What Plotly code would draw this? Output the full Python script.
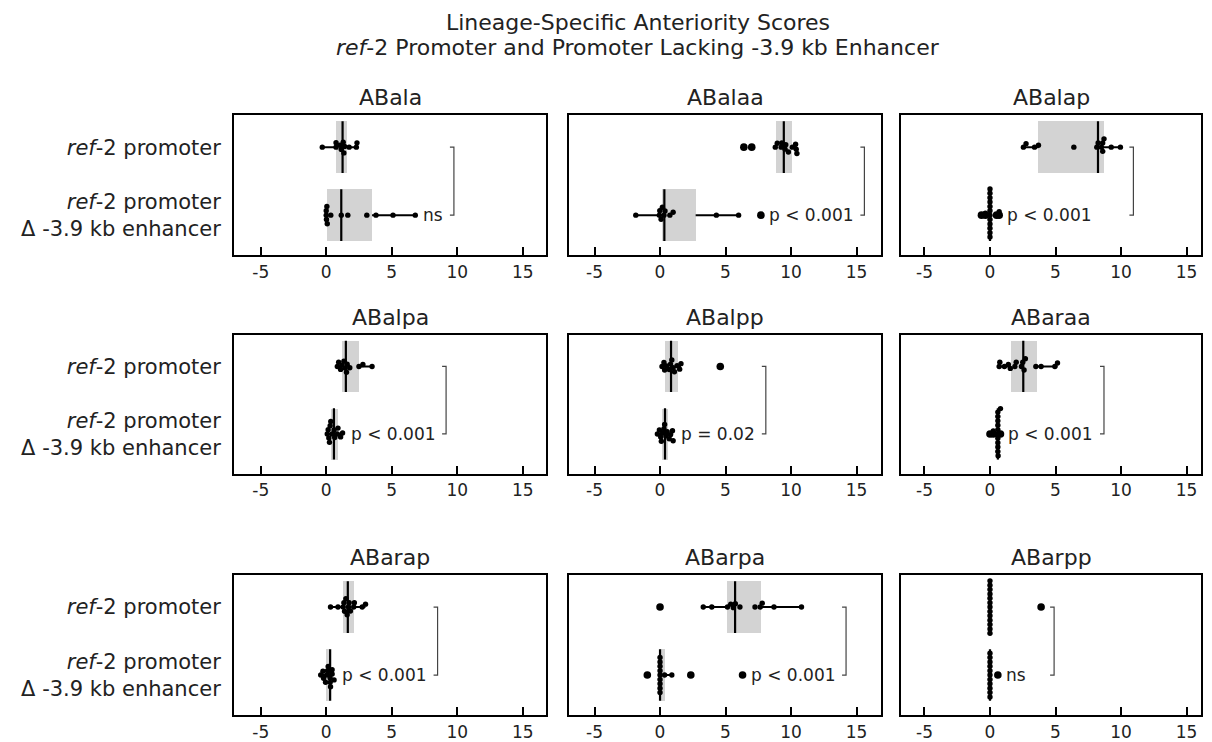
import numpy as np
import plotly.graph_objects as go

# ---- data -----------------------------------------------------------------
lineages = ["ABala", "ABalaa", "ABalap", "ABalpa", "ABalpp",
            "ABaraa", "ABarap", "ABarpa", "ABarpp"]

# anteriority scores, ref-2 promoter
promoter = [
    [-0.3, 0.75, 0.75, 1.05, 1.15, 1.3, 1.35, 1.4, 1.75, 2.3, 2.35],
    [6.4, 7.0, 8.8, 8.95, 9.25, 9.3, 9.55, 9.6, 9.8, 10.1, 10.35, 10.4, 10.45],
    [2.55, 2.75, 3.4, 3.7, 6.4, 8.15, 8.25, 8.5, 8.6, 8.6, 8.7, 9.25, 9.95],
    [0.85, 0.95, 1.1, 1.2, 1.35, 1.45, 1.55, 1.6, 1.8, 2.5, 2.8, 3.5],
    [0.15, 0.3, 0.35, 0.5, 0.7, 0.8, 0.9, 1.0, 1.1, 1.3, 1.5, 1.6, 4.6],
    [0.7, 0.75, 1.1, 1.4, 1.55, 1.9, 2.0, 2.4, 2.5, 2.6, 2.7, 3.5, 3.9, 4.95, 5.15],
    [0.33, 0.9, 1.3, 1.35, 1.4, 1.5, 1.6, 1.7, 1.75, 1.85, 2.1, 2.15, 2.75, 3.0],
    [0.0, 3.3, 3.95, 5.15, 5.4, 5.6, 5.75, 6.1, 7.25, 7.65, 7.8, 8.7, 10.8],
    [0, 0, 0, 0, 0, 0, 0, 0, 0, 0, 0, 0, 0, 3.9],
]
promoter_q1 = [0.71, 8.86, 3.69, 1.17, 0.38, 1.6, 1.27, 5.14, 0.0]
promoter_median = [1.25, 9.45, 8.24, 1.5, 0.84, 2.54, 1.65, 5.73, 0.0]
promoter_q3 = [1.6, 10.08, 8.7, 2.54, 1.35, 3.56, 2.11, 7.68, 0.0]

# anteriority scores, ref-2 promoter lacking the -3.9 kb enhancer
deletion = [
    [0.0, 0.0, 0.02, 0.05, 0.08, 0.35, 1.15, 1.65, 3.1, 3.8, 5.1, 6.8],
    [-1.85, -0.05, -0.02, 0.08, 0.18, 0.3, 0.38, 0.75, 1.0, 4.3, 6.0, 7.7],
    [-0.65, -0.35, 0, 0, 0, 0, 0, 0, 0, 0, 0, 0, 0, 0, 0.5, 0.7],
    [0.08, 0.15, 0.2, 0.25, 0.3, 0.35, 0.45, 0.6, 0.65, 0.85, 0.9, 1.1, 1.25],
    [-0.2, -0.05, 0.05, 0.1, 0.2, 0.3, 0.35, 0.45, 0.55, 0.7, 0.8, 0.95, 1.0],
    [0.0, 0.25, 0.58, 0.6, 0.6, 0.6, 0.6, 0.6, 0.6, 0.6, 0.6, 0.6, 0.62, 0.8],
    [-0.42, -0.25, -0.2, -0.05, 0.05, 0.1, 0.15, 0.3, 0.3, 0.33, 0.45, 0.45, 0.6],
    [-0.97, 0, 0, 0, 0, 0, 0, 0, 0, 0, 0.35, 0.9, 2.35, 6.3],
    [0, 0, 0, 0, 0, 0, 0, 0, 0, 0, 0, 0.6],
]
deletion_q1 = [0.08, 0.13, 0.0, 0.33, 0.13, 0.58, 0.0, 0.0, 0.0]
deletion_median = [1.15, 0.33, 0.0, 0.59, 0.38, 0.6, 0.3, 0.0, 0.0]
deletion_q3 = [3.5, 2.72, 0.0, 0.89, 0.64, 0.62, 0.3, 0.38, 0.0]

p_labels = ["ns", "p < 0.001", "p < 0.001", "p < 0.001", "p = 0.02",
            "p < 0.001", "p < 0.001", "p < 0.001", "ns"]

group_labels = ["<i>ref</i>-2 promoter<br>\u0394 -3.9 kb enhancer",
                "<i>ref</i>-2 promoter"]
x_ticks = [-5, 0, 5, 10, 15]
x_tick_text = ["-5", "0", "5", "10", "15"]
title_lines = ["Lineage-Specific Anteriority Scores",
               "<i>ref</i>-2 Promoter and Promoter Lacking -3.9 kb Enhancer"]

# ---- layout geometry (pixels) --------------------------------------------
W, H = 1212, 742
col_px = [(234, 546), (569, 881), (901, 1201)]
row_px = [(116, 257), (337, 477), (579, 720)]
col_range = [(-7.04, 16.78), (-6.95, 16.87), (-6.79, 16.1)]
y_range = (-0.59, 1.47)
BOX_HALF = 0.38
DOT, OUT_DOT = 5.4, 7.6          # drawn marker diameters
DOT_GAP = 4.4                    # spacing used by the swarm layout

FONT = "DejaVu Sans, Verdana, sans-serif"
INK = "#222222"
P_SIZE = 17


def swarm_offsets(vals, gap, xs, ys):
    """Deterministic beeswarm: vertical offsets (axis units) avoiding overlap."""
    vals = np.asarray(vals, float)
    order = np.argsort(vals, kind="stable")
    placed = []
    out = np.zeros(len(vals))
    for i in order:
        x = vals[i] * xs
        neigh, cands = [], [0.0]
        for xj, yj in placed:
            dx = x - xj
            if abs(dx) < gap:
                dy = np.sqrt(gap ** 2 - dx ** 2)
                neigh.append((xj, yj))
                cands += [yj + dy, yj - dy]
        cands.sort(key=abs)
        for cy in cands:
            if all((x - xj) ** 2 + (cy - yj) ** 2 >= gap ** 2 - 1e-6
                   for xj, yj in neigh):
                break
        placed.append((x, cy))
        out[i] = cy / ys
    return out


def text_px(s, size):
    widths = {"p": .635, " ": .318, "<": .838, "=": .838, "0": .636, ".": .318,
              "1": .636, "2": .636, "n": .634, "s": .521}
    return sum(widths.get(ch, .63) for ch in s) * size


fig = go.Figure()
annotations = []

for k, name in enumerate(lineages):
    r, c = divmod(k, 3)
    sfx = "" if k == 0 else str(k + 1)
    xa, ya = "x" + sfx, "y" + sfx
    x0, x1 = col_px[c]
    y0, y1 = row_px[r]
    xmin, xmax = col_range[c]
    xscale = (x1 - x0) / (xmax - xmin)
    yscale = (y1 - y0) / (y_range[1] - y_range[0])

    groups = [
        (deletion[k], deletion_q1[k], deletion_median[k], deletion_q3[k], 0),
        (promoter[k], promoter_q1[k], promoter_median[k], promoter_q3[k], 1),
    ]
    for vals, q1, med, q3, cat in groups:
        vals = np.asarray(vals, float)
        iqr = q3 - q1
        lo_f, hi_f = q1 - 1.5 * iqr, q3 + 1.5 * iqr
        inl = vals[(vals >= lo_f - 1e-9) & (vals <= hi_f + 1e-9)]
        w_lo, w_hi = inl.min(), inl.max()
        outl = vals[(vals < lo_f - 1e-9) | (vals > hi_f + 1e-9)]

        # interquartile box
        fig.add_trace(go.Bar(
            x=[q3 - q1], base=[q1], y=[cat], orientation="h", width=2 * BOX_HALF,
            marker=dict(color="#d3d3d3", line=dict(width=0)),
            xaxis=xa, yaxis=ya, hoverinfo="skip"))
        # whiskers
        for a, b in ((w_lo, q1), (q3, w_hi)):
            if b - a > 1e-9:
                fig.add_trace(go.Scatter(
                    x=[a, b], y=[cat, cat], mode="lines",
                    line=dict(color="black", width=2),
                    xaxis=xa, yaxis=ya, hoverinfo="skip"))
        # median
        fig.add_trace(go.Scatter(
            x=[med, med], y=[cat - BOX_HALF, cat + BOX_HALF], mode="lines",
            line=dict(color="black", width=2.2),
            xaxis=xa, yaxis=ya, hoverinfo="skip"))
        # box-plot outliers on the group line
        if len(outl):
            fig.add_trace(go.Scatter(
                x=outl, y=[cat] * len(outl), mode="markers",
                marker=dict(color="black", size=OUT_DOT, line=dict(width=0)),
                xaxis=xa, yaxis=ya, hoverinfo="x"))
        # individual embryos as a swarm
        offs = swarm_offsets(vals, DOT_GAP, xscale, yscale)
        fig.add_trace(go.Scatter(
            x=vals, y=cat + offs, mode="markers",
            marker=dict(color="black", size=DOT, opacity=1, line=dict(width=0)),
            xaxis=xa, yaxis=ya, hoverinfo="x"))

    # significance bracket and label
    bottom_max = max(deletion[k])
    top_max = max(promoter[k])
    label_end = bottom_max + (8 + text_px(p_labels[k], P_SIZE) + 11) / xscale
    bx = max(top_max + 13 / xscale, label_end)
    tick = 4 / xscale
    fig.add_trace(go.Scatter(
        x=[bx - tick, bx, bx, bx - tick], y=[1, 1, 0, 0], mode="lines",
        line=dict(color="#444444", width=1.2),
        xaxis=xa, yaxis=ya, hoverinfo="skip"))
    annotations.append(dict(
        x=bottom_max, y=0, xref=xa, yref=ya, xanchor="left", yanchor="middle",
        xshift=6, text=p_labels[k], showarrow=False,
        font=dict(size=P_SIZE, color=INK, family=FONT)))
    annotations.append(dict(
        x=0.5, y=1, xref=f"{xa} domain", yref=f"{ya} domain",
        xanchor="center", yanchor="bottom", yshift=3, text=name,
        showarrow=False, font=dict(size=22, color=INK, family=FONT)))

    fig.layout["xaxis" + sfx] = dict(
        domain=[x0 / W, x1 / W], range=list(col_range[c]), anchor=ya,
        showline=True, mirror=True, linecolor="black", linewidth=2,
        ticks="inside", ticklen=8, tickwidth=1.5, tickcolor="black",
        tickvals=x_ticks, ticktext=x_tick_text, showgrid=False, zeroline=False,
        tickfont=dict(size=17, color=INK, family=FONT))
    fig.layout["yaxis" + sfx] = dict(
        domain=[1 - y1 / H, 1 - y0 / H], range=list(y_range), anchor=xa,
        showline=True, mirror=True, linecolor="black", linewidth=2,
        ticks="", tickvals=[0, 1], ticktext=group_labels,
        showticklabels=(c == 0), ticklabelstandoff=7,
        showgrid=False, zeroline=False,
        tickfont=dict(size=21, color=INK, family=FONT))

# two-line figure title
for i, line in enumerate(title_lines):
    annotations.append(dict(
        x=638 / W, y=1 - (8 + 25 * i) / H, xref="paper", yref="paper",
        xanchor="center", yanchor="top", showarrow=False, text=line,
        font=dict(size=22, color=INK, family=FONT)))

fig.update_layout(
    width=W, height=H, margin=dict(l=0, r=0, t=0, b=0),
    paper_bgcolor="white", plot_bgcolor="white", showlegend=False,
    bargap=0, annotations=annotations, font=dict(family=FONT, color=INK))

fig.write_html("out.html")
